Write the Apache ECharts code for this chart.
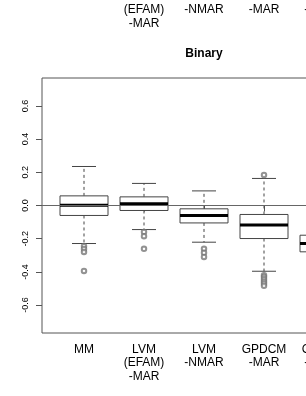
<!DOCTYPE html>
<html>
<head>
<meta charset="utf-8">
<script src="https://cdn.jsdelivr.net/npm/echarts@6/dist/echarts.min.js"></script>
<style>
html,body{margin:0;padding:0;background:#fff;overflow:hidden;width:306px;height:396px;}
#chart{position:absolute;left:0;top:-40px;width:366px;height:436px;}
</style>
</head>
<body>
<div id="chart"></div>
<script>
// ---- data ----
const categories = ["MM", "LVM\n(EFAM)\n-MAR", "LVM\n-NMAR", "GPDCM\n-MAR", "GPDCM\n-NMAR"];
// whisker low, Q1, median, Q3, whisker high
const lowWhisker = [-0.229, -0.145, -0.221, -0.396, -0.42];
const q1Values   = [-0.060, -0.030, -0.105, -0.199, -0.279];
const medians    = [ 0.002,  0.010, -0.060, -0.117, -0.229];
const q3Values   = [ 0.058,  0.052, -0.020, -0.054, -0.179];
const highWhisker= [ 0.235,  0.133,  0.088,  0.163, -0.05];
const outliers = [
  [-0.245, -0.262, -0.280, -0.394],
  [-0.159, -0.185, -0.261],
  [-0.261, -0.285, -0.310],
  [0.184, -0.420, -0.430, -0.444, -0.458, -0.470, -0.484],
  []
];
const yTicks = [-0.6, -0.4, -0.2, 0.0, 0.2, 0.4, 0.6];
const xTicks = [1, 2, 3, 4, 5];
const titleText = "Binary";

// ---- build ----
const boxData = categories.map((c, i) => [i + 1, lowWhisker[i], q1Values[i], medians[i], q3Values[i], highWhisker[i]]);
const outlierData = [];
outliers.forEach((arr, i) => arr.forEach(v => outlierData.push([i + 1, v])));

const FONT = "'Liberation Sans', Arial, Helvetica, sans-serif";
const LINE = '#444';
const OFF = 40; // chart is shifted up by this many pixels

function renderBox(params, api) {
  const x = api.value(0);
  const pLo = api.coord([x, api.value(1)]);
  const pQ1 = api.coord([x, api.value(2)]);
  const pMed = api.coord([x, api.value(3)]);
  const pQ3 = api.coord([x, api.value(4)]);
  const pHi = api.coord([x, api.value(5)]);
  const halfBox = api.size([0.4, 0])[0];
  const halfCap = api.size([0.2, 0])[0];
  const cx = pMed[0];
  const dash = {stroke: LINE, lineWidth: 1, lineDash: [3, 3], fill: null};
  const solid = {stroke: LINE, lineWidth: 1, fill: null};
  return {
    type: 'group',
    children: [
      {type: 'line', shape: {x1: cx, y1: pQ3[1], x2: cx, y2: pHi[1]}, style: dash},
      {type: 'line', shape: {x1: cx, y1: pQ1[1], x2: cx, y2: pLo[1]}, style: dash},
      {type: 'line', shape: {x1: cx - halfCap, y1: pHi[1], x2: cx + halfCap, y2: pHi[1]}, style: solid},
      {type: 'line', shape: {x1: cx - halfCap, y1: pLo[1], x2: cx + halfCap, y2: pLo[1]}, style: solid},
      {type: 'rect', shape: {x: cx - halfBox, y: pQ3[1], width: 2 * halfBox, height: pQ1[1] - pQ3[1]},
        style: {stroke: LINE, lineWidth: 1, fill: '#fff'}},
      {type: 'line', shape: {x1: cx - halfBox, y1: pMed[1], x2: cx + halfBox, y2: pMed[1]},
        style: {stroke: '#000', lineWidth: 3}}
    ]
  };
}

const xLabelCommon = {
  fontFamily: FONT, fontSize: 12, color: '#000', lineHeight: 13.4, margin: 10,
  customValues: xTicks,
  formatter: v => categories[Math.round(v) - 1] || ''
};

const chart = echarts.init(document.getElementById('chart'), null, {renderer: 'canvas'});
chart.setOption({
  animation: false,
  backgroundColor: '#fff',
  graphic: [{
    type: 'text', x: 204, y: 54 + OFF,
    style: {text: titleText, font: 'bold 12px ' + FONT, fill: '#000', textAlign: 'center', textVerticalAlign: 'middle'}
  }],
  grid: [
    {left: 42, top: 78 + OFF, height: 255, right: 0, show: true, borderColor: '#555', borderWidth: 1, backgroundColor: 'transparent'},
    {left: 42, top: 0, height: OFF - 20, right: 0, show: false}
  ],
  xAxis: [
    {type: 'value', gridIndex: 0, min: 0.3, max: 5.7, splitLine: {show: false},
      axisLine: {show: false},
      axisTick: {show: true, length: 6, customValues: xTicks, lineStyle: {color: '#555'}},
      axisLabel: xLabelCommon},
    {type: 'value', gridIndex: 1, min: 0.3, max: 5.7, splitLine: {show: false},
      axisLine: {show: false},
      axisTick: {show: false, customValues: xTicks},
      axisLabel: xLabelCommon}
  ],
  yAxis: [
    {type: 'value', gridIndex: 0, min: -0.768, max: 0.768, splitLine: {show: false},
      axisLine: {show: false},
      axisTick: {show: true, length: 6, customValues: yTicks, lineStyle: {color: '#555'}},
      axisLabel: {fontFamily: FONT, fontSize: 9, color: '#000', rotate: 90, margin: 12,
        customValues: yTicks, formatter: v => v.toFixed(1)}},
    {type: 'value', gridIndex: 1, show: false, min: 0, max: 1}
  ],
  series: [
    {type: 'custom', xAxisIndex: 0, yAxisIndex: 0, renderItem: renderBox, data: boxData,
      encode: {x: 0, y: [1, 2, 3, 4, 5]}, z: 3, silent: true},
    {type: 'scatter', xAxisIndex: 0, yAxisIndex: 0, data: outlierData, symbol: 'emptyCircle', symbolSize: 4.5,
      itemStyle: {color: '#777', borderColor: '#777', borderWidth: 0.6}, z: 4, silent: true,
      markLine: {silent: true, symbol: 'none', label: {show: false},
        lineStyle: {color: '#666', type: 'solid', width: 1}, data: [{yAxis: 0}]}}
  ]
});
</script>
</body>
</html>
